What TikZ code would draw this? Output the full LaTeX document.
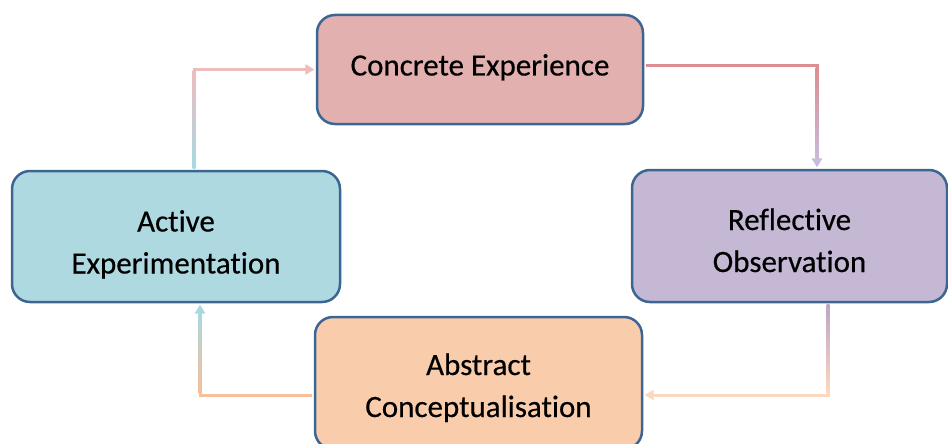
\documentclass[tikz,border=0pt]{standalone}
\usepackage{fontspec}
\setmainfont{Carlito}
\newfontfamily\boxfont{Carlito}[FakeBold=0.4, Ligatures=NoCommon]
\usetikzlibrary{arrows.meta,calc}
\newcommand\topst[1]{\rule{0pt}{#1}}
\newcommand\botst[1]{\rule[-#1]{0pt}{#1}}
\definecolor{bordc}{HTML}{3D6592}
\definecolor{cefill}{HTML}{E2B0AF}
\definecolor{rofill}{HTML}{C4B8D4}
\definecolor{aefill}{HTML}{AED9E0}
\definecolor{acfill}{HTML}{F9CDAC}
\definecolor{celine}{HTML}{DC8E90}
\definecolor{celight}{HTML}{EDBDBD}
\definecolor{roline}{HTML}{C8BADB}
\definecolor{rodark}{HTML}{BDA5C5}
\definecolor{aeline}{HTML}{A8D8E2}
\definecolor{acline}{HTML}{F8BF98}
\definecolor{aclight}{HTML}{FCD8C0}
\tikzset{
  box/.style={draw=bordc, line width=2.5pt, rounded corners=18pt, align=center,
    font=\boxfont\fontsize{31}{42}\selectfont, inner sep=0pt},
  conn/.style={line width=3pt},
}
\begin{document}
\begin{tikzpicture}[x=1pt,y=-1pt]
\useasboundingbox (0,0) rectangle (948,444);
\clip (0,0) rectangle (948,444);
\node[box, fill=cefill, minimum width=326pt, minimum height=109pt] (CE) at (480,69.5) {\topst{26pt}Concrete Experience\botst{14pt}};
\node[box, fill=rofill, minimum width=315pt, minimum height=132pt] (RO) at (789.5,236) {\topst{40pt}Reflective\\Observation\botst{10pt}};
\node[box, fill=aefill, minimum width=328pt, minimum height=131pt] (AE) at (176,236.5) {\topst{42pt}Active\\Experimentation\botst{10pt}};
\node[box, fill=acfill, minimum width=327pt, minimum height=132pt] (AC) at (478.5,383) {\topst{36pt}Abstract\\Conceptualisation\botst{10pt}};
% CE -> RO
\coordinate (p1) at ($(CE.east)+(1.3,-3.5)$);
\coordinate (q1) at ($(RO.north)+(27.5,-1.3)$);
\draw[conn, draw=celine, -{Triangle[length=9pt,width=10pt,color=roline]}] (p1) -| (q1);
\shade[top color=celine, bottom color=roline] ($(p1-|q1)+(-1.5,1.5)$) rectangle ($(q1)+(1.5,-8.5)$);
% RO -> AC
\coordinate (p2) at ($(RO.south)+(38.5,1.3)$);
\coordinate (q2) at ($(AC.east)+(1.3,12)$);
\draw[conn, draw=aclight, -{Triangle[length=9pt,width=10pt,color=aclight]}] (p2) |- (q2);
\shade[top color=rodark, bottom color=aclight] ($(p2)+(-1.5,0)$) rectangle ($(p2|-q2)+(1.5,-1.5)$);
% AC -> AE
\coordinate (p3) at ($(AC.west)+(-1.3,12)$);
\coordinate (q3) at ($(AE.south)+(24,1.3)$);
\draw[conn, draw=acline, -{Triangle[length=9pt,width=10pt,color=aeline]}] (p3) -| (q3);
\shade[top color=aeline, bottom color=acline] ($(q3|-p3)+(-1.5,-1.5)$) rectangle ($(q3)+(1.5,8.5)$);
% AE -> CE
\coordinate (p4) at ($(AE.north)+(18,-1.3)$);
\coordinate (q4) at ($(CE.west)+(-1.3,0)$);
\draw[conn, draw=celight, -{Triangle[length=9pt,width=10pt,color=celight]}] (p4) |- (q4);
\shade[top color=celight, bottom color=aeline] ($(p4)+(-1.5,0)$) rectangle ($(p4|-q4)+(1.5,1.5)$);
\end{tikzpicture}
\end{document}
